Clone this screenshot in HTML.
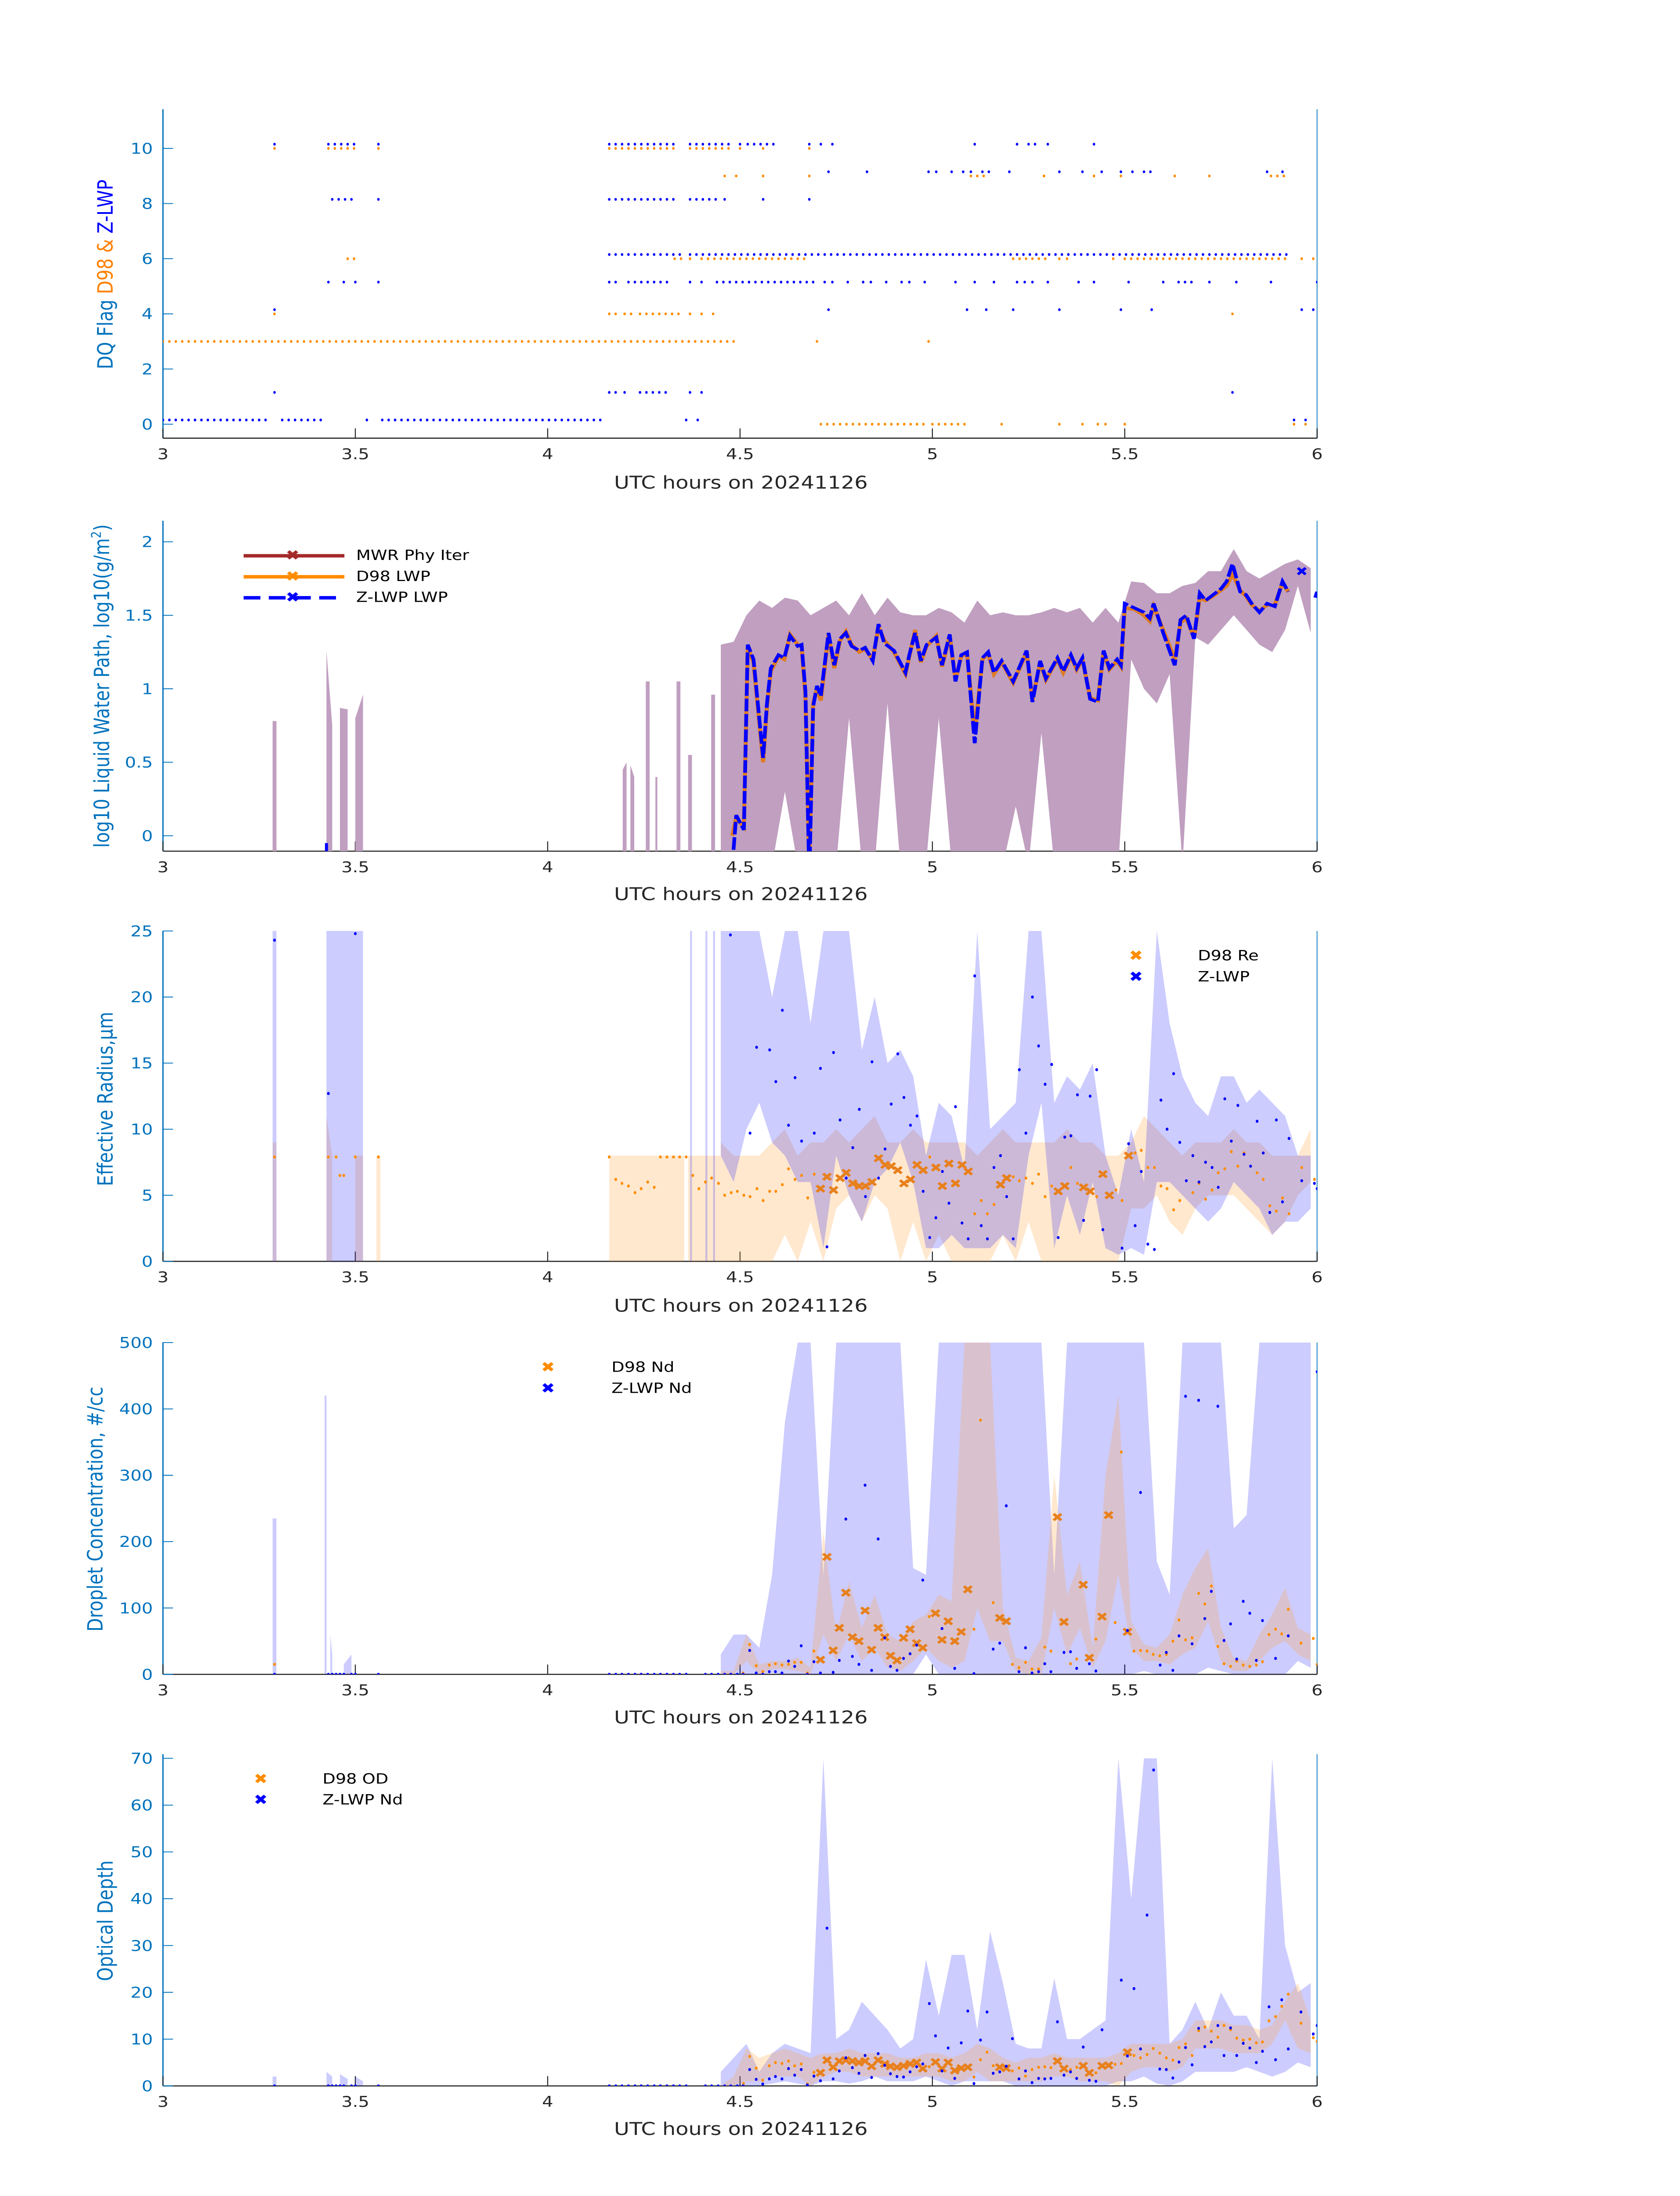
<!DOCTYPE html>
<html><head><meta charset="utf-8"><style>
html,body{margin:0;padding:0;background:#fff;overflow:hidden;}
#fig{position:fixed;left:0;top:0;width:100vw;height:100vh;display:block;font-family:"DejaVu Sans","Liberation Sans",sans-serif;}
</style></head><body>
<svg id="fig" xmlns="http://www.w3.org/2000/svg" viewBox="0 0 1000 1568.63" preserveAspectRatio="none">
<defs>
<clipPath id="c1"><rect x="97" y="78" width="687" height="235"/></clipPath>
<clipPath id="c2"><rect x="97" y="372" width="687" height="236"/></clipPath>
<clipPath id="c3"><rect x="97" y="665" width="687" height="236"/></clipPath>
<clipPath id="c4"><rect x="97" y="959" width="687" height="237"/></clipPath>
<clipPath id="c5"><rect x="97" y="1253" width="687" height="237"/></clipPath>
</defs>
<g font-size="12.5">
<text transform="translate(67,196) rotate(-90)" text-anchor="middle"><tspan fill="#0072BD">DQ Flag </tspan><tspan fill="#FF8000">D98 &amp; </tspan><tspan fill="#0000FF">Z-LWP</tspan></text>
<text transform="translate(65,490) rotate(-90)" text-anchor="middle" fill="#0072BD">log10 Liquid Water Path, log10(g/m<tspan font-size="8" dy="-5">2</tspan><tspan dy="5">)</tspan></text>
<text transform="translate(67,785) rotate(-90)" text-anchor="middle" fill="#0072BD">Effective Radius,μm</text>
<text transform="translate(61,1078) rotate(-90)" text-anchor="middle" fill="#0072BD">Droplet Concentration, #/cc</text>
<text transform="translate(67,1372) rotate(-90)" text-anchor="middle" fill="#0072BD">Optical Depth</text>
</g>
<g font-size="12.5" fill="#262626" text-anchor="middle">
<text x="441" y="349">UTC hours on 20241126</text>
<text x="441" y="643">UTC hours on 20241126</text>
<text x="441" y="937">UTC hours on 20241126</text>
<text x="441" y="1231">UTC hours on 20241126</text>
<text x="441" y="1525">UTC hours on 20241126</text>
</g>
<g font-size="10" fill="#000">
<line x1="145" y1="397" x2="205" y2="397" stroke="#A52A2A" stroke-width="2.5"/>
<text x="170" y="400" fill="#A52A2A" font-size="10" font-weight="bold">✖</text>
<text x="212" y="400">MWR Phy Iter</text>
<line x1="145" y1="412" x2="205" y2="412" stroke="#FF8C00" stroke-width="2.5"/>
<text x="170" y="415" fill="#FF8C00" font-size="10">✖</text>
<text x="212" y="415">D98 LWP</text>
<line x1="145" y1="427" x2="205" y2="427" stroke="#0000FF" stroke-width="2.5" stroke-dasharray="10,5"/>
<text x="170" y="430" fill="#0000FF" font-size="10">✖</text>
<text x="212" y="430">Z-LWP LWP</text>
</g>
<g font-size="10">
<text x="672" y="686" fill="#FF8C00">✖</text><text x="713" y="686">D98 Re</text>
<text x="672" y="701" fill="#0000FF">✖</text><text x="713" y="701">Z-LWP</text>
</g>
<g font-size="10">
<text x="322" y="980" fill="#FF8C00">✖</text><text x="364" y="980">D98 Nd</text>
<text x="322" y="995" fill="#0000FF">✖</text><text x="364" y="995">Z-LWP Nd</text>
</g>
<g font-size="10">
<text x="151" y="1274" fill="#FF8C00">✖</text><text x="192" y="1274">D98 OD</text>
<text x="151" y="1289" fill="#0000FF">✖</text><text x="192" y="1289">Z-LWP Nd</text>
</g>
</svg><script>
// ---------- DATA ----------
const xTickLabels = ["3","3.5","4","4.5","5","5.5","6"];
const xTickVals = [3,3.5,4,4.5,5,5.5,6];
const dqZ = [[0,3.0,3.27],[0,3.31,3.42],[0,3.53,3.54],[0,3.57,4.15],[0,4.36,4.36],[0,4.39,4.39],[0,5.94,5.94],[0,5.97,5.97],
[1,3.29,3.29],[1,4.16,4.18],[1,4.2,4.21],[1,4.24,4.32],[1,4.37,4.37],[1,4.4,4.4],[1,5.78,5.78],
[4,3.29,3.29],[4,4.73,4.73],[4,5.09,5.09],[4,5.14,5.14],[4,5.21,5.21],[4,5.33,5.33],[4,5.49,5.49],[4,5.57,5.58],[4,5.96,5.96],[4,5.99,5.99],
[5,3.43,3.43],[5,3.47,3.47],[5,3.5,3.5],[5,3.56,3.56],[5,4.16,4.18],[5,4.21,4.32],[5,4.37,4.37],[5,4.4,4.4],[5,4.44,4.7],[5,4.72,4.72],[5,4.74,4.74],[5,4.78,4.78],[5,4.82,4.82],[5,4.84,4.84],[5,4.88,4.88],[5,4.92,4.92],[5,4.94,4.94],[5,4.98,4.98],[5,5.06,5.06],[5,5.11,5.11],[5,5.16,5.16],[5,5.22,5.22],[5,5.24,5.24],[5,5.26,5.26],[5,5.3,5.31],[5,5.38,5.38],[5,5.42,5.42],[5,5.51,5.51],[5,5.6,5.61],[5,5.64,5.68],[5,5.72,5.72],[5,5.79,5.79],[5,5.88,5.88],[5,6.0,6.0],
[6,4.16,4.35],[6,4.37,5.92],
[8,3.44,3.49],[8,3.56,3.56],[8,4.16,4.34],[8,4.37,4.44],[8,4.46,4.47],[8,4.56,4.56],[8,4.68,4.68],
[9,4.73,4.73],[9,4.83,4.83],[9,4.99,4.99],[9,5.01,5.01],[9,5.05,5.05],[9,5.08,5.08],[9,5.1,5.1],[9,5.13,5.15],[9,5.2,5.21],[9,5.33,5.33],[9,5.39,5.39],[9,5.44,5.44],[9,5.49,5.49],[9,5.52,5.52],[9,5.55,5.57],[9,5.87,5.87],[9,5.91,5.91],
[10,3.29,3.29],[10,3.43,3.51],[10,3.56,3.56],[10,4.16,4.34],[10,4.37,4.47],[10,4.5,4.5],[10,4.52,4.6],[10,4.68,4.68],[10,4.71,4.71],[10,4.74,4.74],[10,5.11,5.11],[10,5.22,5.22],[10,5.25,5.27],[10,5.3,5.3],[10,5.42,5.42]];
const dqD98 = [[0,4.71,4.98],[0,5.0,5.09],[0,5.18,5.19],[0,5.33,5.34],[0,5.39,5.4],[0,5.43,5.43],[0,5.45,5.45],[0,5.5,5.5],[0,5.94,5.94],[0,5.97,5.97],
[3,3.0,4.49],[3,4.7,4.7],[3,4.99,4.99],
[4,3.29,3.29],[4,4.16,4.18],[4,4.2,4.22],[4,4.24,4.35],[4,4.37,4.37],[4,4.4,4.4],[4,4.43,4.43],[4,5.78,5.78],
[6,3.48,3.51],[6,4.33,4.35],[6,4.37,4.37],[6,4.4,4.67],[6,5.21,5.3],[6,5.33,5.33],[6,5.35,5.35],[6,5.47,5.47],[6,5.5,5.93],[6,5.96,5.96],[6,5.99,6.0],
[9,4.46,4.46],[9,4.49,4.5],[9,4.56,4.56],[9,4.68,4.68],[9,5.1,5.14],[9,5.29,5.29],[9,5.42,5.42],[9,5.49,5.49],[9,5.63,5.64],[9,5.72,5.72],[9,5.88,5.92],
[10,3.29,3.29],[10,3.43,3.51],[10,3.56,3.56],[10,4.16,4.34],[10,4.37,4.47],[10,4.5,4.5],[10,4.56,4.56],[10,4.68,4.68]];

const lwpT = [4.48,4.49,4.51,4.52,4.535,4.56,4.57,4.58,4.60,4.615,4.63,4.65,4.66,4.67,4.68,4.69,4.70,4.71,4.73,4.745,4.76,4.775,4.79,4.81,4.825,4.845,4.86,4.875,4.90,4.93,4.94,4.955,4.97,4.985,5.01,5.025,5.045,5.06,5.075,5.09,5.11,5.13,5.145,5.16,5.18,5.21,5.245,5.26,5.28,5.295,5.325,5.34,5.36,5.375,5.39,5.41,5.43,5.445,5.46,5.48,5.49,5.5,5.525,5.55,5.565,5.575,5.60,5.63,5.645,5.66,5.68,5.695,5.71,5.73,5.75,5.765,5.78,5.8,5.815,5.83,5.85,5.87,5.89,5.91,5.925];
const lwpZ = [-0.2,0.14,0.04,1.3,1.2,0.53,0.9,1.14,1.23,1.21,1.36,1.29,1.3,0.98,-0.3,0.88,1.02,0.95,1.38,1.16,1.34,1.38,1.29,1.26,1.28,1.19,1.44,1.31,1.26,1.11,1.23,1.38,1.19,1.3,1.35,1.16,1.37,1.05,1.23,1.25,0.63,1.21,1.25,1.11,1.19,1.05,1.26,0.91,1.19,1.07,1.21,1.12,1.23,1.14,1.21,0.93,0.91,1.26,1.14,1.2,1.16,1.58,1.55,1.52,1.48,1.58,1.38,1.16,1.47,1.5,1.34,1.65,1.6,1.64,1.68,1.73,1.85,1.66,1.64,1.58,1.52,1.58,1.56,1.73,1.66];
const lwpD98 = [0.0,0.12,0.06,1.28,1.18,0.5,0.88,1.12,1.22,1.2,1.37,1.3,1.29,0.95,-0.2,0.9,1.0,0.92,1.37,1.14,1.33,1.39,1.3,1.25,1.27,1.2,1.42,1.33,1.25,1.1,1.22,1.4,1.18,1.29,1.36,1.15,1.36,1.06,1.22,1.24,0.7,1.2,1.24,1.1,1.18,1.04,1.25,0.92,1.18,1.06,1.2,1.11,1.22,1.13,1.2,0.94,0.92,1.25,1.13,1.19,1.15,1.55,1.54,1.5,1.46,1.56,1.4,1.2,1.45,1.48,1.35,1.62,1.6,1.63,1.67,1.7,1.78,1.67,1.63,1.57,1.53,1.57,1.57,1.72,1.66];
const lwpZExtraT = [5.995,6.0];
const lwpZExtraV = [1.62,1.66];
const lwpMarkT = [5.96];
const lwpMarkV = [1.8];
const bandT0 = 4.45;
const lwpHi = [1.3,1.32,1.5,1.6,1.55,1.62,1.6,1.5,1.55,1.6,1.5,1.65,1.5,1.62,1.52,1.5,1.5,1.55,1.52,1.45,1.6,1.5,1.52,1.5,1.5,1.52,1.55,1.52,1.55,1.45,1.55,1.45,1.73,1.72,1.65,1.65,1.7,1.72,1.8,1.8,1.95,1.8,1.75,1.8,1.85,1.88,1.82];
const lwpLo = [-0.2,-0.2,-0.2,-0.2,-0.2,0.3,-0.2,-0.2,-0.2,-0.2,0.8,-0.2,-0.2,0.9,-0.2,-0.2,-0.2,0.8,-0.2,-0.2,-0.2,-0.2,-0.2,0.2,-0.2,0.7,-0.2,-0.2,-0.2,-0.2,-0.2,-0.2,1.2,1.0,0.9,1.1,-0.2,1.35,1.3,1.4,1.5,1.4,1.3,1.25,1.4,1.7,1.38];
const lwpEarlyT = [3.285,3.295,3.425,3.44,3.46,3.48,3.5,3.52,4.195,4.205,4.215,4.225,4.255,4.265,4.28,4.285,4.335,4.345,4.365,4.375,4.425,4.435];
const lwpEarlyHi = [0.78,0.78,1.26,0.75,0.87,0.86,0.8,0.96,0.45,0.5,0.48,0.4,1.05,1.05,0.4,0.4,1.05,1.05,0.55,0.55,0.96,0.96];

const reZT = [3.29,3.43,3.5,4.475,4.526,4.543,4.577,4.593,4.61,4.626,4.643,4.66,4.693,4.709,4.726,4.743,4.76,4.776,4.793,4.81,4.826,4.843,4.86,4.877,4.893,4.91,4.926,4.943,4.96,4.976,4.993,5.009,5.026,5.043,5.06,5.077,5.093,5.11,5.127,5.143,5.16,5.177,5.193,5.21,5.226,5.243,5.26,5.276,5.293,5.31,5.327,5.344,5.36,5.377,5.393,5.41,5.427,5.443,5.493,5.51,5.527,5.543,5.56,5.577,5.594,5.61,5.627,5.643,5.66,5.677,5.693,5.71,5.727,5.743,5.76,5.777,5.794,5.81,5.827,5.844,5.86,5.877,5.894,5.91,5.927,5.96,5.993,6.0];
const reZV = [24.3,12.7,24.8,24.7,9.7,16.2,16.0,13.6,19.0,10.3,13.9,9.1,9.7,14.6,1.1,15.8,10.7,6.3,8.6,11.5,4.9,15.1,6.3,8.5,11.9,15.7,12.4,10.3,11.0,5.3,1.8,3.3,6.8,4.4,11.7,2.9,1.7,21.6,2.7,1.7,7.1,8.0,4.9,1.7,14.5,9.7,20.0,16.3,13.4,14.9,1.8,9.4,9.5,12.6,3.1,12.5,14.5,2.4,1.0,8.9,2.7,6.8,1.3,0.9,12.2,10.0,14.2,9.0,6.1,8.0,6.0,7.5,7.1,5.6,12.3,9.1,11.8,8.1,7.2,10.6,8.2,3.7,10.7,4.5,9.3,6.1,5.9,5.5];
const reDotT = [3.29,3.43,3.45,3.46,3.47,3.5,3.56,4.16,4.177,4.193,4.21,4.227,4.243,4.26,4.277,4.293,4.31,4.327,4.343,4.36,4.377,4.393,4.41,4.426,4.444,4.46,4.477,4.493,4.51,4.526,4.544,4.56,4.577,4.593,4.61,4.626,4.643,4.66,4.676,4.693,4.993,5.11,5.127,5.143,5.16,5.21,5.226,5.243,5.26,5.276,5.293,5.31,5.36,5.377,5.427,5.477,5.493,5.527,5.543,5.56,5.577,5.594,5.61,5.627,5.643,5.677,5.693,5.71,5.727,5.743,5.76,5.777,5.794,5.81,5.827,5.844,5.86,5.877,5.894,5.91,5.927,5.96,5.993];
const reDotV = [7.9,7.9,7.9,6.5,6.5,7.9,7.9,7.9,6.2,5.9,5.7,5.2,5.5,6.0,5.6,7.9,7.9,7.9,7.9,7.9,6.5,5.5,6.0,6.3,5.9,5.0,5.2,5.3,5.0,4.9,5.5,4.6,5.3,5.3,5.8,7.0,6.2,6.5,4.8,6.6,7.9,3.6,4.6,3.6,4.3,6.4,6.1,6.3,5.9,6.6,4.9,5.7,7.1,5.9,4.9,5.4,4.6,8.2,8.4,7.1,7.1,5.7,5.5,3.9,4.6,5.2,5.9,4.7,5.4,6.7,7.0,8.3,7.2,8.2,7.2,6.7,6.2,4.2,3.8,4.8,3.6,7.1,6.2];
const reXT = [4.709,4.726,4.743,4.76,4.776,4.793,4.81,4.826,4.843,4.86,4.877,4.893,4.91,4.926,4.943,4.96,4.976,5.009,5.026,5.043,5.06,5.077,5.093,5.177,5.193,5.327,5.344,5.393,5.41,5.443,5.46,5.51];
const reXV = [5.5,6.4,5.4,6.3,6.7,5.9,5.7,5.7,6.0,7.8,7.3,7.2,6.9,5.9,6.2,7.3,6.9,7.1,5.7,7.4,5.9,7.3,6.8,5.8,6.3,5.3,5.7,5.6,5.3,6.6,5.0,8.0];
const reZHi = [25,25,25,25,20,25,25,18,25,25,25,16,20,15,16,14,8,12,11,7,25,10,11,12,25,25,12,14,13,15,8,5,10,6,25,18,14,12,11,14,14,12,13,12,11,8,8];
const reZLo = [8,6,10,12,9,8,6,6,1,8,5,3,6,7,9,6,1,1,2,1,1,1,2,1,8,12,1,5,2,6,1,0.5,1,0.5,6,6,5,4,3,4,6,5,4,2,3,3,4];
const reDHi = [9,8,8,8,9,10,8,9,9,10,9,10,11,9,9,10,9,9,9,9,8,9,10,9,9,9,9,10,9,9,8,8,9,11,10,9,8,9,9,9,10,9,9,8,8,8,10];
const reDLo = [0,0,0,0,0,2,0,3,0,4,5,3,5,4,0,3,0,2,0,0,0,0,2,0,3,0,0,0,0,0,0,0,4,4,5,3,2,4,5,5,5,4,3,2,3,5,6];

const ndZT = [3.29,3.43,3.44,3.45,3.46,3.47,3.49,3.5,3.56,4.16,4.177,4.193,4.21,4.227,4.243,4.26,4.277,4.293,4.31,4.327,4.343,4.36,4.41,4.426,4.443,4.46,4.476,4.493,4.508,4.525,4.542,4.559,4.576,4.592,4.609,4.626,4.642,4.659,4.675,4.692,4.709,4.742,4.758,4.775,4.792,4.809,4.825,4.842,4.859,4.876,4.891,4.908,4.925,4.942,4.959,4.975,5.025,5.058,5.108,5.158,5.175,5.192,5.225,5.242,5.259,5.276,5.292,5.308,5.342,5.359,5.375,5.408,5.425,5.507,5.541,5.592,5.608,5.625,5.641,5.658,5.675,5.692,5.708,5.725,5.742,5.758,5.775,5.791,5.808,5.825,5.842,5.858,5.892,5.925,6.0];
const ndZV = [0,0,0,0,0,0,0,0,0,0,0,0,0,0,0,0,0,0,0,0,0,0,0,0,0,0,0,0,0,36,2,0,4,4,2,20,12,43,0,19,2,3,21,234,27,15,285,6,204,55,12,6,24,31,44,142,69,9,1,38,47,254,4,40,2,4,16,4,33,34,9,16,5,66,274,14,33,6,58,419,46,413,84,125,404,51,76,23,110,92,21,81,24,58,456];
const ndDotT = [3.29,4.508,4.525,4.542,4.559,4.576,4.592,4.609,4.626,4.642,4.659,4.675,4.692,4.992,5.108,5.125,5.158,5.208,5.225,5.242,5.259,5.276,5.292,5.308,5.359,5.375,5.425,5.475,5.491,5.524,5.541,5.558,5.574,5.591,5.608,5.625,5.641,5.658,5.675,5.692,5.708,5.725,5.742,5.758,5.775,5.791,5.808,5.825,5.842,5.858,5.875,5.892,5.908,5.925,5.958,5.99,6.0];
const ndDotV = [15,2,45,13,4,14,16,14,15,18,18,2,35,87,68,383,108,15,10,18,8,8,41,35,16,23,53,78,335,35,36,35,30,28,30,50,82,52,55,122,106,133,42,16,12,20,14,12,14,19,60,68,61,98,47,54,15];
const ndXT = [4.709,4.726,4.742,4.758,4.775,4.792,4.809,4.825,4.842,4.859,4.876,4.891,4.908,4.925,4.942,4.959,4.975,5.008,5.025,5.041,5.058,5.075,5.092,5.175,5.192,5.325,5.342,5.392,5.408,5.441,5.458,5.507];
const ndXV = [22,177,36,70,123,56,50,96,37,70,56,28,21,55,68,47,40,92,52,80,50,64,128,85,80,237,79,135,25,87,240,64];
const ndZHi = [30,60,60,40,150,380,500,500,150,500,500,500,500,500,500,160,150,500,500,500,500,500,500,500,500,500,150,500,500,500,500,500,500,500,170,120,500,500,500,500,220,240,500,500,500,500,500];
const ndZLo = [0,0,0,0,2,0,0,0,0,0,0,0,0,0,0,0,30,0,0,0,0,0,0,0,0,0,0,0,0,0,0,0,0,5,0,0,0,0,10,5,0,0,0,0,0,20,10];
const ndDHi = [5,5,60,15,20,20,25,10,215,60,140,70,120,60,50,80,90,120,110,500,500,500,100,25,20,55,300,120,170,40,300,420,80,45,40,60,120,160,190,70,25,20,60,90,130,70,60];
const ndDLo = [0,0,20,0,8,8,5,0,60,20,60,20,40,10,5,20,40,20,10,20,100,50,50,5,0,0,100,30,70,10,50,150,40,20,20,15,30,40,80,20,5,5,20,40,50,30,20];
const ndEarlyT = [3.285,3.295,3.42,3.425,3.435,3.44,3.47,3.49,3.5];
const ndEarlyHi = [235,235,420,420,60,30,15,30,10];

const odZT = [3.29,3.43,3.44,3.45,3.46,3.47,3.49,3.5,3.56,4.16,4.177,4.193,4.21,4.227,4.243,4.26,4.277,4.293,4.31,4.327,4.343,4.36,4.41,4.426,4.443,4.46,4.476,4.493,4.508,4.525,4.542,4.559,4.576,4.592,4.609,4.626,4.642,4.659,4.675,4.692,4.709,4.726,4.742,4.758,4.775,4.792,4.809,4.825,4.842,4.859,4.876,4.891,4.908,4.925,4.942,4.959,4.975,4.992,5.008,5.025,5.041,5.058,5.075,5.092,5.108,5.125,5.142,5.158,5.175,5.192,5.208,5.225,5.242,5.259,5.276,5.292,5.308,5.325,5.342,5.359,5.375,5.392,5.408,5.425,5.441,5.491,5.507,5.524,5.541,5.558,5.575,5.591,5.608,5.625,5.641,5.658,5.675,5.692,5.708,5.725,5.742,5.758,5.775,5.791,5.808,5.825,5.842,5.858,5.875,5.892,5.908,5.925,5.958,5.99,6.0];
const odZV = [0,0,0,0,0,0,0,0,0,0,0,0,0,0,0,0,0,0,0,0,0,0,0,0,0,0,0,0,0,3.5,1.4,0.4,1.5,2.0,1.5,3.7,2.3,3.5,0.2,2.1,1.1,33.7,1.5,3.2,6.0,3.9,2.7,6.5,1.8,6.9,4.4,2.6,2.0,1.9,3.0,4.1,4.7,17.6,10.7,3.2,8.1,1.6,9.2,16.0,0.5,9.8,15.8,2.7,3.0,4.2,10.1,1.5,3.2,0.7,1.6,1.5,1.6,13.7,2.3,3.0,1.6,8.3,1.2,1.0,12.0,22.6,6.4,20.8,7.9,36.5,67.5,3.6,3.5,1.7,5.1,8.2,4.5,12.3,8.4,9.4,12.9,6.5,12.4,6.5,9.1,8.1,5.0,7.4,16.9,5.6,18.4,7.9,15.8,11.1,12.9];
const odDotT = [4.509,4.525,4.542,4.559,4.576,4.592,4.609,4.626,4.642,4.659,4.675,4.692,4.992,5.108,5.125,5.142,5.158,5.208,5.225,5.242,5.259,5.276,5.292,5.308,5.359,5.375,5.425,5.475,5.491,5.524,5.541,5.558,5.574,5.591,5.608,5.625,5.641,5.658,5.675,5.692,5.708,5.725,5.742,5.758,5.775,5.791,5.808,5.825,5.842,5.858,5.875,5.892,5.908,5.925,5.958,5.99,6.0];
const odDotV = [0.5,6.3,3.8,1.2,4.3,5.0,4.8,5.3,4.3,4.7,0.4,2.9,4.1,1.9,5.6,7.2,4.3,3.2,3.8,2.1,3.5,4.0,4.1,3.9,3.5,4.0,2.8,4.6,4.8,6.5,6.0,6.7,8.0,7.0,6.0,5.5,8.2,9.0,6.5,11.8,12.6,11.7,10.4,12.9,12.0,10.2,9.8,10.0,9.2,9.4,13.9,14.8,17.0,19.6,13.4,10.3,9.5];
const odXT = [4.709,4.726,4.742,4.758,4.775,4.792,4.809,4.825,4.842,4.859,4.876,4.891,4.908,4.925,4.942,4.959,4.975,5.008,5.025,5.041,5.058,5.075,5.092,5.175,5.192,5.325,5.342,5.392,5.408,5.441,5.458,5.507];
const odXV = [2.8,5.5,4.0,5.3,5.5,5.3,5.0,5.3,4.2,5.5,4.7,4.2,4.0,4.3,4.7,5.0,3.7,5.1,3.7,5.0,3.3,3.8,4.0,4.0,3.8,5.3,3.7,4.3,2.8,4.3,4.4,7.2];
const odZHi = [3,6,9,3,7,9,8,7,70,10,12,18,15,12,8,10,27,15,28,28,12,33,22,9,8,8,23,10,10,12,14,70,40,70,70,9,12,18,12,20,15,15,10,70,30,20,22];
const odZLo = [0,0,0,0,0.5,1,0.5,0,1,1,0.5,1,2,1,1,1,2,1,0,1,1,1,1,0,0,0,0,0,0,0,0,1,1,2,0.5,0,1,3,3,3,3,4,3,2,3,5,4];
const odDHi = [0,2,8,6,7,8,7,6,7,7,8,7,7,7,6,6,7,7,6,7,9,8,6,5,6,6,7,6,6,6,6,7,9,9,9,9,10,14,14,14,13,13,12,13,18,22,14];
const odDLo = [0,0,1,1,2,2,2,0,2,3,3,2,2,2,2,2,2,2,1,1,3,1,1,1,1,1,2,2,1,1,1,0,3,4,4,3,4,8,8,8,7,7,7,9,14,8,7];
const odEarlyT = [3.285,3.295,3.425,3.44,3.46,3.48,3.5,3.52];
const odEarlyHi = [2,2,3,2,2.5,1.5,2,1];

// ---------- DRAWING ----------
const NS = "http://www.w3.org/2000/svg";
const svg = document.getElementById('fig');
function mk(tag, parent, attrs){ const e=document.createElementNS(NS,tag); for(const k in attrs) e.setAttribute(k,attrs[k]); parent.appendChild(e); return e; }
const X = t => 97 + (t-3)*229;
const BLUE="#0000FF", ORANGE="#FF8C00", AX="#0072BD";
function bandGridT(n){ const a=[]; for(let i=0;i<n;i++) a.push(bandT0 + i/30); return a; }

function axes(name, top, bottom, yFn, yTicks, yLabels){
  const g = mk('g', svg, {});
  
  
  mk('line', g, {x1:97,y1:top,x2:97,y2:bottom,stroke:AX,'stroke-width':0.8});
  mk('line', g, {x1:784,y1:top,x2:784,y2:bottom,stroke:AX,'stroke-width':0.8,'stroke-opacity':0.6});
  mk('line', g, {x1:97,y1:bottom,x2:784,y2:bottom,stroke:'#262626','stroke-width':0.8});
  xTickVals.forEach((v,i)=>{
    mk('line', g, {x1:X(v),y1:bottom,x2:X(v),y2:bottom-7,stroke:'#262626','stroke-width':0.6});
    const t = mk('text', g, {x:X(v),y:bottom+15,'font-size':10.5,'text-anchor':'middle',fill:'#262626'});
    t.textContent = xTickLabels[i];
    
    
  });
  yTicks.forEach((v,i)=>{
    const y=yFn(v);
    mk('line', g, {x1:97,y1:y,x2:103,y2:y,stroke:AX,'stroke-width':0.6});
    const t = mk('text', g, {x:91,y:y+3.8,'font-size':10.5,'text-anchor':'end',fill:AX});
    t.textContent = yLabels[i];
    
    
  });
}
function layer(name, clip){
  const g = mk('g', svg, {'clip-path':'url(#'+clip+')'});
  
  
  return g;
}
function band(g, ts, hi, lo, yFn, fill, name){
  const n=Math.min(ts.length,hi.length,lo.length);
  let d='M'+X(ts[0])+','+yFn(hi[0]);
  for(let i=1;i<n;i++) d+=' L'+X(ts[i])+','+yFn(hi[i]);
  for(let i=n-1;i>=0;i--) d+=' L'+X(ts[i])+','+yFn(lo[i]);
  const p = mk('path', g, {d:d+'Z', fill:fill, stroke:'none'});
  
  
}
function spikes(g, ts, hi, base, yFn, fill, name){
  for(let i=0;i+1<ts.length;i+=2){
    const p = mk('path', g, {d:'M'+X(ts[i])+','+yFn(base)+' L'+X(ts[i])+','+yFn(hi[i])+' L'+X(ts[i+1])+','+yFn(hi[i+1])+' L'+X(ts[i+1])+','+yFn(base)+'Z', fill:fill});
    
    
  }
}
function dots(g, ts, vs, yFn, color, r, name){
  const n=Math.min(ts.length,vs.length);
  for(let i=0;i<n;i++){
    const c = mk('ellipse', g, {cx:X(ts[i]), cy:yFn(vs[i]), rx:r*0.75, ry:r, fill:color});
    
    
  }
}
function crosses(g, ts, vs, yFn, color, name){
  const n=Math.min(ts.length,vs.length);
  for(let i=0;i<n;i++){
    const x=X(ts[i]), y=yFn(vs[i]), s=2.3;
    const p = mk('path', g, {d:`M${x-s},${y-s}L${x+s},${y+s}M${x-s},${y+s}L${x+s},${y-s}`, stroke:color,'stroke-width':1.8,fill:'none'});
    
    
  }
}
function line(g, ts, vs, yFn, attrs, name){
  const n=Math.min(ts.length,vs.length);
  let d='';
  for(let i=0;i<n;i++) d+=(i?' L':'M')+X(ts[i])+','+yFn(vs[i]);
  const p = mk('path', g, Object.assign({d:d,fill:'none'},attrs));
  
  
}

const y1 = v => 303 - v*19.7;
axes('dq', 78, 313, y1, [0,2,4,6,8,10], ["0","2","4","6","8","10"]);
{
  const g = layer('dq-flag-points','c1');
  const drawRuns = (runs, color, off, name) => {
    runs.forEach(r => {
      for(let t=r[1]; t<=r[2]+1e-6; t+=1/60){
        const c = mk('ellipse', g, {cx:X(t), cy:y1(r[0])-off, rx:0.75, ry:1.0, fill:color});
        
        
      }
    });
  };
  drawRuns(dqD98, ORANGE, 0, 'd98-dq-point');
  drawRuns(dqZ, BLUE, 3, 'zlwp-dq-point');
}

const y2 = v => 597 - v*105;
axes('lwp', 372, 608, y2, [0,0.5,1,1.5,2], ["0","0.5","1","1.5","2"]);
{
  const g = layer('lwp-plot','c2');
  const bt = bandGridT(lwpHi.length);
  band(g, bt, lwpHi, lwpLo, y2, '#C09FC0', 'lwp-uncertainty-band');
  spikes(g, lwpEarlyT, lwpEarlyHi, -0.3, y2, '#C09FC0', 'lwp-early-band');
  line(g, lwpT, lwpD98, y2, {stroke:'#E07B20','stroke-width':2.4}, 'd98-lwp-line');
  line(g, lwpT, lwpZ, y2, {stroke:BLUE,'stroke-width':2.2,'stroke-dasharray':'9,2'}, 'zlwp-lwp-line');
  line(g, lwpZExtraT, lwpZExtraV, y2, {stroke:BLUE,'stroke-width':2.2}, 'zlwp-lwp-line-end');
  crosses(g, lwpMarkT, lwpMarkV, y2, BLUE, 'zlwp-lwp-marker');
  line(g, [3.425,3.425], [-0.2,-0.05], y2, {stroke:BLUE,'stroke-width':1.8}, 'zlwp-lwp-early');
}

const y3 = v => 901 - v*9.44;
axes('re', 665, 901, y3, [0,5,10,15,20,25], ["0","5","10","15","20","25"]);
{
  const g = layer('re-plot','c3');
  const bt = bandGridT(reDHi.length);
  spikes(g, [4.16,4.355,4.365,4.45,3.285,3.295,3.425,3.44,3.5,3.52,3.555,3.565], [8,8,8,8,9,9,11,8,8,8,8,8], 0, y3, 'rgba(255,165,60,0.25)', 're-d98-early-band');
  band(g, bt, reDHi, reDLo, y3, 'rgba(255,165,60,0.25)', 're-d98-band');
  spikes(g, [3.285,3.295,3.425,3.52,4.37,4.375,4.41,4.415,4.43,4.435], [26,26,26,26,26,26,26,26,26,26], 0, y3, 'rgba(0,0,255,0.2)', 're-zlwp-early-band');
  band(g, bt, reZHi, reZLo, y3, 'rgba(0,0,255,0.2)', 're-zlwp-band');
  dots(g, reDotT, reDotV, y3, ORANGE, 1.1, 'd98-re-point');
  crosses(g, reXT, reXV, y3, '#E8801C', 'd98-re-cross');
  dots(g, reZT, reZV, y3, BLUE, 1.1, 'zlwp-re-point');
}

const y4 = v => 1196 - v*0.474;
axes('nd', 959, 1196, y4, [0,100,200,300,400,500], ["0","100","200","300","400","500"]);
{
  const g = layer('nd-plot','c4');
  const bt = bandGridT(ndZHi.length);
  spikes(g, ndEarlyT.slice(0,8), ndEarlyHi.slice(0,8), 0, y4, 'rgba(0,0,255,0.2)', 'nd-zlwp-early-band');
  band(g, bt, ndZHi, ndZLo, y4, 'rgba(0,0,255,0.2)', 'nd-zlwp-band');
  band(g, bt, ndDHi, ndDLo, y4, 'rgba(255,165,60,0.25)', 'nd-d98-band');
  dots(g, ndDotT, ndDotV, y4, ORANGE, 1.1, 'd98-nd-point');
  crosses(g, ndXT, ndXV, y4, '#E8801C', 'd98-nd-cross');
  dots(g, ndZT, ndZV, y4, BLUE, 1.1, 'zlwp-nd-point');
}

const y5 = v => 1490 - v*3.343;
axes('od', 1253, 1490, y5, [0,10,20,30,40,50,60,70], ["0","10","20","30","40","50","60","70"]);
{
  const g = layer('od-plot','c5');
  const bt = bandGridT(odZHi.length);
  spikes(g, odEarlyT, odEarlyHi, 0, y5, 'rgba(0,0,255,0.2)', 'od-zlwp-early-band');
  band(g, bt, odZHi, odZLo, y5, 'rgba(0,0,255,0.2)', 'od-zlwp-band');
  band(g, bt, odDHi, odDLo, y5, 'rgba(255,165,60,0.25)', 'od-d98-band');
  dots(g, odDotT, odDotV, y5, ORANGE, 1.1, 'd98-od-point');
  crosses(g, odXT, odXV, y5, '#E8801C', 'd98-od-cross');
  dots(g, odZT, odZV, y5, BLUE, 1.1, 'zlwp-od-point');
}
</script></body></html>
